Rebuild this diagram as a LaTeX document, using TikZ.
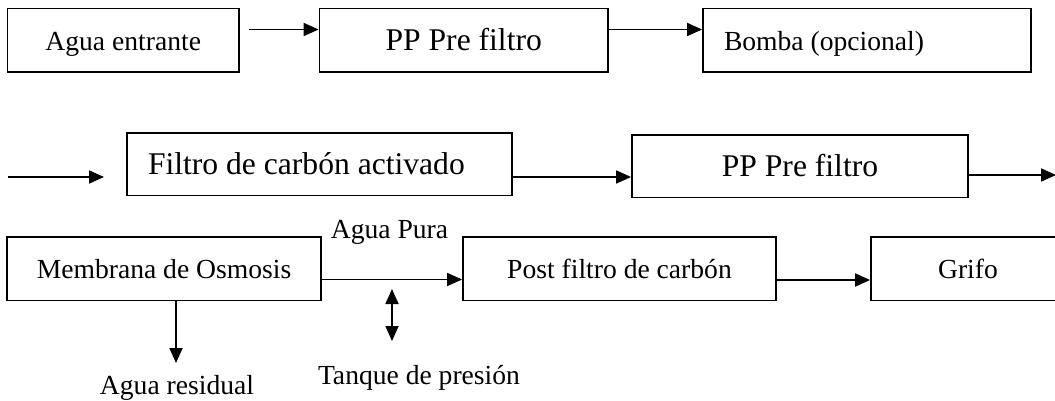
\documentclass[tikz,border=0pt]{standalone}
\usepackage{fontspec}
\setmainfont{Liberation Serif}
\usetikzlibrary{arrows.meta}
\begin{document}
\begin{tikzpicture}[x=1pt,y=-1pt,
  box/.style={draw, line width=1.8pt, inner sep=0pt, text height=20pt, text depth=0pt},
  sm/.style={font=\fontsize{27.6pt}{33pt}\selectfont},
  lg/.style={font=\fontsize{31.6pt}{38pt}\selectfont},
  arr/.style={line width=1.8pt, -{Triangle[length=15pt,width=13pt]}},
  darr/.style={line width=1.8pt, {Triangle[length=15pt,width=13pt]}-{Triangle[length=15pt,width=13pt]}},
  lbl/.style={sm, inner sep=0pt, anchor=base}]
\useasboundingbox (0,0) rectangle (1055,401);
\clip (0,0) rectangle (1055,401);
% row 1
\node[box,sm,minimum width=231.5pt,minimum height=63.5pt] (A) at (123.25,40.25) {Agua entrante};
\node[box,lg,minimum width=288.5pt,minimum height=63.5pt] (B) at (463.75,40.25) {PP Pre filtro};
\node[box,sm,inner xsep=21pt,minimum height=63.5pt] (C) at (867,40.25) {\makebox[286pt][l]{Bomba (opcional)}};
% row 2
\node[box,lg,inner xsep=21pt,minimum height=62.5pt] (D) at (319.5,164.25) {\makebox[343pt][l]{Filtro de carbón activado}};
\node[box,lg,minimum width=336pt,minimum height=62.5pt] (E) at (800,166.25) {PP Pre filtro};
% row 3
\node[box,sm,minimum width=314pt,minimum height=63.5pt] (F) at (164,268.75) {Membrana de Osmosis};
\node[box,sm,minimum width=313pt,minimum height=63.5pt] (G) at (619.5,268.75) {Post filtro de carbón};
\node[box,sm,minimum width=194pt,minimum height=63.5pt] (H) at (968,268.75) {Grifo};
% labels
\node[lbl] (P) at (389.5,238) {Agua Pura};
\node[lbl] (T) at (419,384) {Tanque de presión};
\node[lbl] (R) at (177,394) {Agua residual};
% free ends
\coordinate (in) at (7.5,177);
\coordinate (inend) at (104,177);
\coordinate (out) at (1056,175);
\coordinate (rtip) at (176,363);
\coordinate (tt) at (392,289);
\coordinate (tb) at (392,341);
% connectors
\draw[arr] ([xshift=9pt,yshift=10.75pt]A.east) -- ([yshift=10.75pt]B.west);
\draw[arr] ([yshift=10.75pt]B.east) -- ([yshift=10.75pt]C.west);
\draw[arr] (in) -- (inend);
\draw[arr] ([yshift=-12.75pt]D.east) -- ([yshift=-10.75pt]E.west);
\draw[arr] ([yshift=-8.75pt]E.east) -- (out);
\draw[arr] ([yshift=-10.75pt]F.east) -- ([yshift=-10.75pt]G.west);
\draw[arr] ([yshift=-11.25pt]G.east) -- ([yshift=-11.25pt]H.west);
\draw[arr] ([xshift=12pt]F.south) -- (rtip);
\draw[darr] (tt) -- (tb);
\end{tikzpicture}
\end{document}
